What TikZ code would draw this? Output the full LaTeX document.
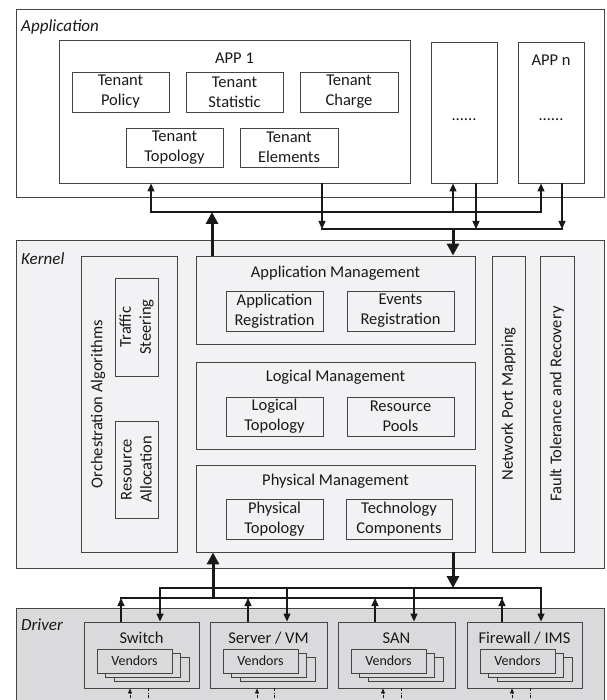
\documentclass[tikz,border=0pt]{standalone}
\usepackage{fontspec}
\setmainfont{Carlito}
\usetikzlibrary{arrows.meta}

\definecolor{kernelfill}{RGB}{242,242,244}
\definecolor{driverfill}{RGB}{218,218,220}
\definecolor{edge}{RGB}{68,68,68}
\definecolor{ink}{RGB}{25,25,25}

\tikzset{
  box/.style={draw=edge, line width=0.9pt, inner sep=0pt, align=center, text=ink},
  layerlabel/.style={anchor=west, inner sep=0pt, text=ink, font=\fontsize{17}{20}\selectfont\itshape},
  title/.style={inner sep=0pt, text=ink},
  vendor/.style={box, fill=driverfill, font=\fontsize{14}{16}\selectfont},
  bus/.style={draw=ink, line width=1.3pt, line cap=rect},
  thinarrow/.style={draw=ink, line width=1.3pt, -{Triangle[length=8pt,width=7pt]}},
  thickarrow/.style={draw=ink, line width=3pt, -{Triangle[length=12pt,width=12pt]}},
  dashdot/.style={draw=ink, line width=0.8pt, dash pattern=on 3pt off 1.5pt on 1pt off 1.5pt},
}

% box from (x1,y1) to (x2,y2), y growing downwards
\newcommand{\boxnode}[7][]{%
  \node[box, minimum width={(#4)-(#2)}, minimum height={(#5)-(#3)}, #1]
    (#6) at ({((#2)+(#4))/2},{((#3)+(#5))/2}) {#7};}

% one driver block with its stacked vendor cards
\newcommand{\driverblock}[4]{%
  \boxnode[fill=driverfill]{#2}{622}{#3}{688}{#1}{}
  \node[title] (#1t) at ({((#2)+(#3))/2},638) {#4};
  \boxnode[vendor]{(#2)+30}{657}{(#2)+105}{681}{#1v2}{}
  \boxnode[vendor]{(#2)+21.5}{653}{(#2)+96.5}{677}{#1v1}{}
  \boxnode[vendor]{(#2)+13}{649}{(#2)+88}{673}{#1v0}{Vendors}
}

\begin{document}
\begin{tikzpicture}[x=1pt, y=-1pt, font=\fontsize{16.5}{20}\selectfont]
\useasboundingbox (0,0) rectangle (606,700);
\clip (0,0) rectangle (606,700);

% ---------- layers ----------
\boxnode[fill=white]{16}{9}{604}{197}{applayer}{}
\boxnode[fill=kernelfill]{16}{240}{604}{568}{kernlayer}{}
\boxnode[fill=driverfill]{16}{608}{604}{720}{drvlayer}{}
\node[layerlabel] (appl) at (21,27) {Application};
\node[layerlabel] (kernl) at (21,259) {Kernel};
\node[layerlabel] (drvl) at (21,625) {Driver};

% ---------- application layer ----------
\boxnode{59}{40}{410}{183}{app1}{}
\node[title] (app1t) at (234.5,58) {APP 1};
\boxnode{72}{72}{169}{112}{tpol}{Tenant\\Policy}
\boxnode{186}{72}{283}{112}{tstat}{Tenant\\Statistic}
\boxnode{300}{72}{398}{112}{tchg}{Tenant\\Charge}
\boxnode{126}{128}{223}{167}{ttop}{Tenant\\Topology}
\boxnode{240}{128}{338}{167}{telem}{Tenant\\Elements}

\boxnode{431}{42}{497}{183}{dots}{}
\node[title] (dotst) at (464,120) {......};
\boxnode{518}{42}{584}{183}{appn}{}
\node[title] (appnt) at (551,60) {APP n};
\node[title] (appnd) at (551,120) {......};

% ---------- kernel layer ----------
\boxnode{81}{256}{177}{552}{orch}{}
\node[title, rotate=90] (orcht) at (98,404) {Orchestration Algorithms};
\node[box, rotate=90, minimum width=98, minimum height=43] (traffic) at (136.5,327) {Traffic\\Steering};
\node[box, rotate=90, minimum width=97, minimum height=43] (alloc) at (136.5,469.5) {Resource\\Allocation};

\boxnode{196}{256}{475}{344}{appm}{}
\node[title] (appmt) at (335.5,273) {Application Management};
\boxnode{226}{291}{323}{331}{appreg}{Application\\Registration}
\boxnode{347}{291}{454}{331}{evreg}{Events\\Registration}

\boxnode{196}{362}{475}{449}{logm}{}
\node[title] (logmt) at (335.5,377) {Logical Management};
\boxnode{226}{397}{323}{436}{logtop}{Logical\\Topology}
\boxnode{347}{397}{454}{436}{respool}{Resource\\Pools}

\boxnode{196}{465}{475}{552}{phys}{}
\node[title] (physt) at (335.5,481) {Physical Management};
\boxnode{226}{499}{323}{539}{phystop}{Physical\\Topology}
\boxnode{346}{499}{452}{539}{techc}{Technology\\Components}

\node[box, rotate=90, minimum width=296, minimum height=33] (npm) at (508.5,404) {Network Port Mapping};
\node[box, rotate=90, minimum width=296, minimum height=34] (ftr) at (557,404) {Fault Tolerance and Recovery};

% ---------- driver layer ----------
\driverblock{sw}{84}{199}{Switch}
\driverblock{sv}{210}{327}{Server / VM}
\driverblock{san}{338}{455}{SAN}
\driverblock{fw}{467}{582}{Firewall / IMS}

% ---------- application <-> kernel ----------
\coordinate (upA) at (151,212);
\coordinate (upB) at (541,212);
\coordinate (upDots) at (453,212);
\coordinate (dnA) at (322,229);
\coordinate (dnB) at (562,229);
\coordinate (dnDots) at (476,229);
\coordinate (toApps) at (212,212);
\coordinate (fromApps) at (453,229);

\draw[bus] (upA) -- (upB);
\draw[bus] (dnA) -- (dnB);
\draw[thinarrow] (upA) -- (upA |- app1.south);
\draw[thinarrow] (upB) -- (upB |- appn.south);
\draw[thinarrow] (upDots) -- (upDots |- dots.south);
\draw[thinarrow] (app1.south -| dnA) -- (dnA);
\draw[thinarrow] (dots.south -| dnDots) -- (dnDots);
\draw[thinarrow] (appn.south -| dnB) -- (dnB);
\draw[thickarrow] (appm.north -| toApps) -- (toApps);
\draw[thickarrow] (fromApps) -- (fromApps |- appm.north);

% ---------- kernel <-> driver ----------
\coordinate (lowL) at (121,598);
\coordinate (lowR) at (502,598);
\coordinate (highL) at (160,588);
\coordinate (highR) at (541,588);
\coordinate (svUp) at (248,598);
\coordinate (sanUp) at (375,598);
\coordinate (svDn) at (287,588);
\coordinate (sanDn) at (414,588);
\coordinate (toKernel) at (213,598);
\coordinate (fromKernel) at (453,588);

\draw[bus] (lowL) -- (lowR);
\draw[bus] (highL) -- (highR);
\draw[thinarrow] (sw.north -| lowL) -- (lowL);
\draw[thinarrow] (sv.north -| svUp) -- (svUp);
\draw[thinarrow] (san.north -| sanUp) -- (sanUp);
\draw[thinarrow] (fw.north -| lowR) -- (lowR);
\draw[thinarrow] (highL) -- (highL |- sw.north);
\draw[thinarrow] (svDn) -- (svDn |- sv.north);
\draw[thinarrow] (sanDn) -- (sanDn |- san.north);
\draw[thinarrow] (highR) -- (highR |- fw.north);
\draw[thickarrow] (toKernel) -- (toKernel |- phys.south);
\draw[thickarrow] (phys.south -| fromKernel) -- (fromKernel);

% ---------- links to the devices below ----------
\foreach \d/\xin/\xout in {sw/130/148, sv/257/274, san/383/401, fw/512/530} {
  \coordinate (\d in) at (\xin,705);
  \coordinate (\d out) at (\xout,705);
  \draw[dashdot, -{Triangle[length=5pt,width=4pt]}] (\d in) -- (\d in |- \d.south);
  \draw[dashdot] (\d.south -| \d out) -- (\d out);
}
\end{tikzpicture}
\end{document}
